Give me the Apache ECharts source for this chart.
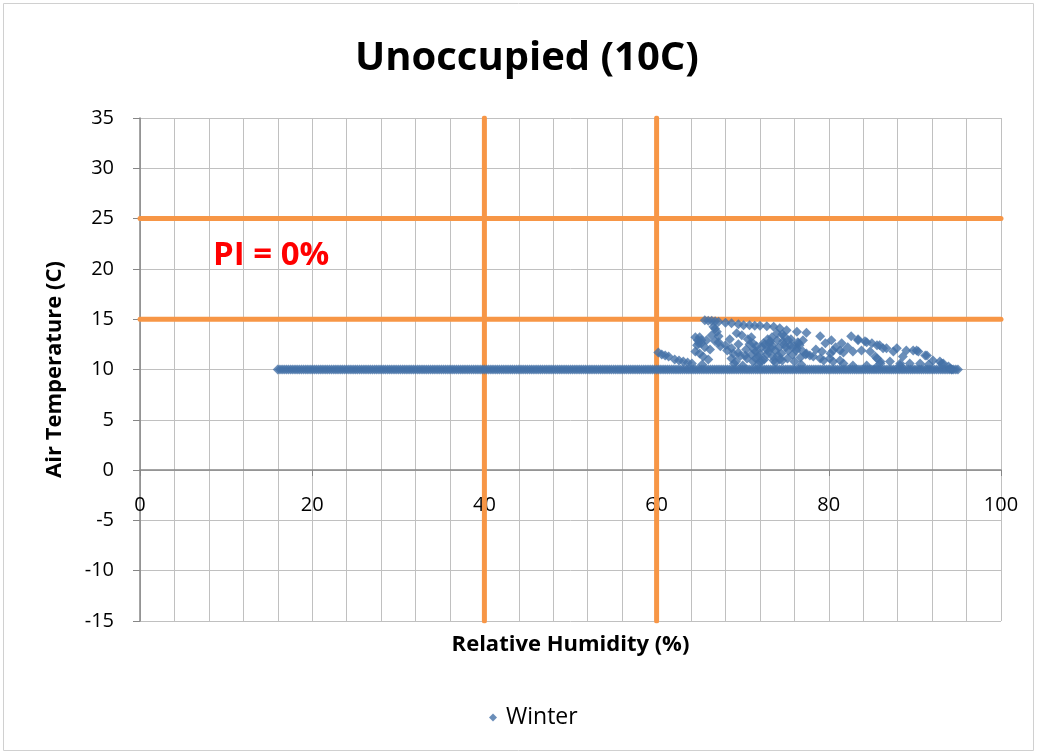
<!DOCTYPE html>
<html>
<head>
<meta charset="utf-8">
<script src="https://cdn.jsdelivr.net/npm/echarts@6/dist/echarts.min.js"></script>
<style>
  html, body { margin: 0; padding: 0; background: #fff; }
  #chart { width: 1038px; height: 754px; }
</style>
</head>
<body>
<div id="chart"></div>
<script>
  // flat run of readings sitting at 10C
  const flatRH = [
    16, 16.5, 17, 17.5, 18, 18.5, 19, 19.5, 20, 20.5, 21, 21.5, 22, 22.5, 23, 23.5, 24, 24.5,
    25, 25.5, 26, 26.5, 27, 27.5, 28, 28.5, 29, 29.5, 30, 30.5, 31, 31.5, 32, 32.5, 33, 33.5,
    34, 34.5, 35, 35.5, 36, 36.5, 37, 37.5, 38, 38.5, 39, 39.5, 40, 40.5, 41, 41.5, 42, 42.5,
    43, 43.5, 44, 44.5, 45, 45.5, 46, 46.5, 47, 47.5, 48, 48.5, 49, 49.5, 50, 50.5, 51, 51.5,
    52, 52.5, 53, 53.5, 54, 54.5, 55, 55.5, 56, 56.5, 57, 57.5, 58, 58.5, 59, 59.5, 60, 60.5,
    61, 61.5, 62, 62.5, 63, 63.5, 64, 64.5, 65, 65.5, 66, 66.5, 67, 67.5, 68, 68.5, 69, 69.5,
    70, 70.5, 71, 71.5, 72, 72.5, 73, 73.5, 74, 74.5, 75, 75.5, 76, 76.5, 77, 77.5, 78, 78.5,
    79, 79.5, 80, 80.5, 81, 81.5, 82, 82.5, 83, 83.5, 84, 84.5, 85, 85.5, 86, 86.5, 87, 87.5,
    88, 88.5, 89, 89.5, 90, 90.5, 91, 91.5, 92, 92.5, 93, 93.5, 94, 94.5, 95,
    16.25, 16.75, 17.25, 17.75, 18.25, 18.75, 19.25, 19.75, 20.25, 20.75, 21.25, 21.75,
    22.25, 22.75, 23.25, 23.75, 24.25, 24.75, 25.25, 25.75, 26.25, 26.75, 27.25, 27.75,
    28.25, 28.75, 29.25, 29.75, 30.25, 30.75, 31.25, 31.75, 32.25, 32.75, 33.25, 33.75,
    34.25, 34.75, 35.25, 35.75, 36.25, 36.75, 37.25, 37.75, 38.25, 38.75, 39.25, 39.75,
    40.25, 40.75, 41.25, 41.75, 42.25, 42.75, 43.25, 43.75, 44.25, 44.75, 45.25, 45.75,
    46.25, 46.75, 47.25, 47.75, 48.25, 48.75, 49.25, 49.75, 50.25, 50.75, 51.25, 51.75,
    52.25, 52.75, 53.25, 53.75, 54.25, 54.75, 55.25, 55.75, 56.25, 56.75, 57.25, 57.75,
    58.25, 58.75, 59.25, 59.75, 60.25, 60.75, 61.25, 61.75, 62.25, 62.75, 63.25, 63.75,
    64.25, 64.75, 65.25, 65.75, 66.25, 66.75, 67.25, 67.75, 68.25, 68.75, 69.25, 69.75,
    70.25, 70.75, 71.25, 71.75, 72.25, 72.75, 73.25, 73.75, 74.25, 74.75, 75.25, 75.75,
    76.25, 76.75, 77.25, 77.75, 78.25, 78.75, 79.25, 79.75, 80.25, 80.75, 81.25, 81.75,
    82.25, 82.75, 83.25, 83.75, 84.25, 84.75, 85.25, 85.75, 86.25, 86.75, 87.25, 87.75,
    88.25, 88.75, 89.25, 89.75, 90.25, 90.75, 91.25, 91.75, 92.25, 92.75, 93.25, 93.75,
    94.25, 94.75
  ]
  const flatT = 10

  // scattered readings above 10C
  const clusterRH = [
    60.2, 60.6, 61.0, 61.4, 62.1, 62.6, 63.1, 63.6, 64.1,
    64.5, 64.8, 65.0, 65.2, 65.0, 65.4, 65.6, 65.8, 66.0, 64.7, 66.2, 65.3,
    65.6, 66.0, 66.4, 66.8, 67.2, 68.0, 68.7, 69.5, 70.1, 70.8, 71.4, 72.0, 72.8, 73.6, 74.3,
    75.1, 76.3, 77.4, 79.0, 80.3, 81.5, 82.2, 82.8,
    66.6, 67.0, 67.2, 66.8, 67.4, 68.2, 68.9, 69.7, 70.5, 71.2,
    69.3, 69.9, 70.6, 71.2, 71.6, 72.0, 72.4, 73.2, 74.0, 74.7, 75.5, 76.3, 77.0, 77.3,
    74.0, 74.8, 75.6, 76.4, 73.0, 73.5, 72.5, 73.8, 74.5, 75.2, 76.0, 71.5, 72.2, 72.8,
    73.4, 74.2, 70.4, 69.5, 68.5, 69.0, 70.0, 71.8, 76.8, 77.4, 78.2, 79.4, 80.5, 81.7,
    82.8, 84.4, 85.5, 77.0, 79.6, 78.5, 79.2, 80.2, 81.3, 80.8,
    82.6, 83.4, 84.2, 85.0, 85.9, 86.7, 87.5, 87.9, 83.8, 84.8, 85.4, 86.0, 87.1, 88.3,
    89.0, 89.8, 90.4, 91.4, 92.1, 92.9, 93.3, 93.9, 94.3, 89.4, 90.6, 91.6, 88.6,
    70.8, 71.3, 71.8, 72.3, 72.8, 73.3, 73.8, 74.3, 74.8, 75.3, 75.8, 76.2, 76.7, 71.0,
    71.5, 72.0, 72.6, 73.1, 73.6, 74.1, 74.6, 75.0, 75.9, 76.6, 72.9, 73.4, 74.6,
    66.4, 67.2, 68.0, 68.7, 69.5, 70.3, 64.5, 65.2, 64.9, 66.8, 71.0, 75.3, 76.5, 68.7,
    69.2, 77.8, 79.0, 80.1, 81.3, 81.7, 80.5, 86.3, 90.2, 91.2, 93.1, 94.1, 88.3, 85.6,
    86.0, 83.4, 84.4, 85.6
  ]
  const clusterT = [
    11.7, 11.5, 11.4, 11.3, 11.0, 10.9, 10.8, 10.7, 10.6,
    11.8, 12.9, 13.2, 12.6, 11.6, 11.3, 12.2, 12.9, 11.0, 12.4, 12.0, 10.5,
    14.9, 14.85, 14.85, 14.8, 14.75, 14.65, 14.6, 14.5, 14.4, 14.4, 14.35, 14.35, 14.3, 14.25, 14.1,
    13.9, 13.75, 13.65, 13.3, 12.9, 12.6, 12.2, 11.8,
    14.25, 13.75, 13.3, 12.8, 12.3, 11.9, 11.6, 11.35, 11.1, 10.8,
    13.6, 13.4, 13.0, 12.6, 12.3, 11.6, 12.6, 12.8, 12.9, 12.8, 12.4, 12.1, 11.8, 11.5,
    13.6, 13.3, 13.0, 12.7, 11.8, 11.3, 11.0, 10.7, 11.6, 11.1, 10.8, 11.8, 12.2, 12.0,
    12.4, 12.2, 12.0, 12.5, 13.0, 10.6, 10.4, 10.5, 10.5, 11.6, 11.3, 10.9, 10.8, 10.6,
    10.4, 10.4, 10.2, 12.9, 12.6, 12.0, 11.8, 11.6, 11.9, 12.2,
    13.3, 13.0, 12.8, 12.6, 12.4, 12.1, 11.8, 12.1, 11.9, 11.8, 11.3, 10.8, 10.8, 10.6,
    11.9, 11.9, 11.8, 11.4, 10.9, 10.8, 10.6, 10.3, 10.0, 10.6, 10.6, 10.5, 11.3,
    12.5, 12.0, 11.3, 10.9, 11.5, 12.1, 11.9, 11.0, 12.5, 11.9, 11.5, 11.9, 11.2, 11.5,
    11.1, 10.8, 12.5, 12.6, 10.9, 11.4, 10.9, 12.2, 12.3, 12.4, 13.0, 13.2, 13.5,
    13.4, 12.7, 12.4, 12.1, 11.7, 11.4, 13.2, 12.9, 12.6, 14.05, 13.2, 12.9, 12.6, 11.1,
    10.8, 11.4, 11.1, 11.1, 10.9, 11.7, 11.9, 12.1, 11.9, 11.4, 10.6, 10.1, 10.4, 11.1,
    10.6, 12.9, 12.7, 12.4
  ]

  // PI limits drawn in orange
  const rhLimits = [40, 60]
  const tLimits = [15, 25]

  const xTicks = { min: 0, max: 100, step: 20 }
  const yTicks = { min: -15, max: 35, step: 5 }

  const font = '"Open Sans", "Noto Sans", sans-serif'
  const blue = '#4572a7'
  const orange = '#f79646'
  const gridGray = '#c0c0c0'
  const axisGray = '#868686'

  let winterData = flatRH.map(rh => [rh, flatT])
  clusterRH.forEach((rh, i) => winterData.push([rh, clusterT[i]]))

  let limitSeries = []
  rhLimits.forEach(rh => {
    limitSeries.push({
      name: 'rh' + rh,
      type: 'line',
      data: [[rh, yTicks.min], [rh, yTicks.max]],
      symbol: 'none',
      lineStyle: { color: orange, width: 5, cap: 'round' },
      silent: true,
      z: 1,
    })
  })
  tLimits.forEach(t => {
    limitSeries.push({
      name: 't' + t,
      type: 'line',
      data: [[xTicks.min, t], [xTicks.max, t]],
      symbol: 'none',
      lineStyle: { color: orange, width: 5, cap: 'round' },
      silent: true,
      z: 1,
    })
  })

  // plot box: 0..100 over 140..1001 px, -15..35 over 621..118 px
  const plotTop = 118
  const plotBottom = 621
  const zeroOffset = -Math.round((plotBottom - plotTop) * (0 - yTicks.min) / (yTicks.max - yTicks.min))

  const chart = echarts.init(document.getElementById('chart'))
  chart.setOption({
    animation: false,
    textStyle: { fontFamily: font },
    title: {
      text: 'Unoccupied (10C)',
      left: 350,
      top: 34,
      textStyle: { fontFamily: font, fontSize: 40, fontWeight: 'bold', color: '#000' },
    },
    legend: {
      data: ['Winter'],
      top: 701,
      left: 484,
      icon: 'diamond',
      itemWidth: 8,
      itemHeight: 8,
      itemGap: 6,
      textStyle: { fontFamily: font, fontSize: 23, color: '#000', padding: [0, 0, 0, 4] },
    },
    grid: {
      left: 140,
      right: 37,
      top: plotTop,
      bottom: 754 - plotBottom,
      containLabel: false,
      outerBoundsMode: 'none',
    },
    xAxis: {
      type: 'value',
      min: xTicks.min,
      max: xTicks.max,
      interval: xTicks.step,
      offset: zeroOffset,
      name: 'Relative Humidity (%)',
      nameLocation: 'middle',
      nameGap: 164,
      nameTextStyle: { fontFamily: font, fontSize: 22, fontWeight: 'bold', color: '#000' },
      axisLine: { onZero: false, lineStyle: { color: axisGray, width: 1.5 } },
      axisTick: { show: true, length: 6, inside: false, lineStyle: { color: axisGray } },
      axisLabel: { fontFamily: font, fontSize: 20, color: '#000', margin: 25 },
      splitLine: { show: true, lineStyle: { color: gridGray, width: 1 } },
      minorTick: { show: false, splitNumber: 5 },
      minorSplitLine: { show: true, lineStyle: { color: gridGray, width: 1 } },
    },
    yAxis: {
      type: 'value',
      min: yTicks.min,
      max: yTicks.max,
      interval: yTicks.step,
      name: 'Air Temperature (C)',
      nameLocation: 'middle',
      nameGap: 74,
      nameRotate: 90,
      nameTextStyle: { fontFamily: font, fontSize: 22, fontWeight: 'bold', color: '#000' },
      axisLine: { show: true, onZero: false, lineStyle: { color: axisGray, width: 1.5 } },
      axisTick: { show: true, length: 7, lineStyle: { color: axisGray } },
      axisLabel: { fontFamily: font, fontSize: 20, color: '#000', margin: 26 },
      splitLine: { show: true, lineStyle: { color: gridGray, width: 1 } },
    },
    graphic: [
      {
        type: 'rect',
        shape: { x: 3.5, y: 3.5, width: 1030, height: 747 },
        style: { fill: 'none', stroke: '#d0d0d0', lineWidth: 1 },
        silent: true,
        z: -10,
      },
      {
        type: 'text',
        left: 213,
        top: 239,
        style: { text: 'PI = 0%', fill: '#ff0000', font: 'bold 33px ' + font },
        z: 10,
      },
    ],
    series: limitSeries.concat([
      {
        name: 'Winter',
        type: 'scatter',
        symbol: 'diamond',
        symbolSize: 10,
        itemStyle: { color: blue },
        data: winterData,
        z: 5,
      },
    ]),
  })
</script>
</body>
</html>
